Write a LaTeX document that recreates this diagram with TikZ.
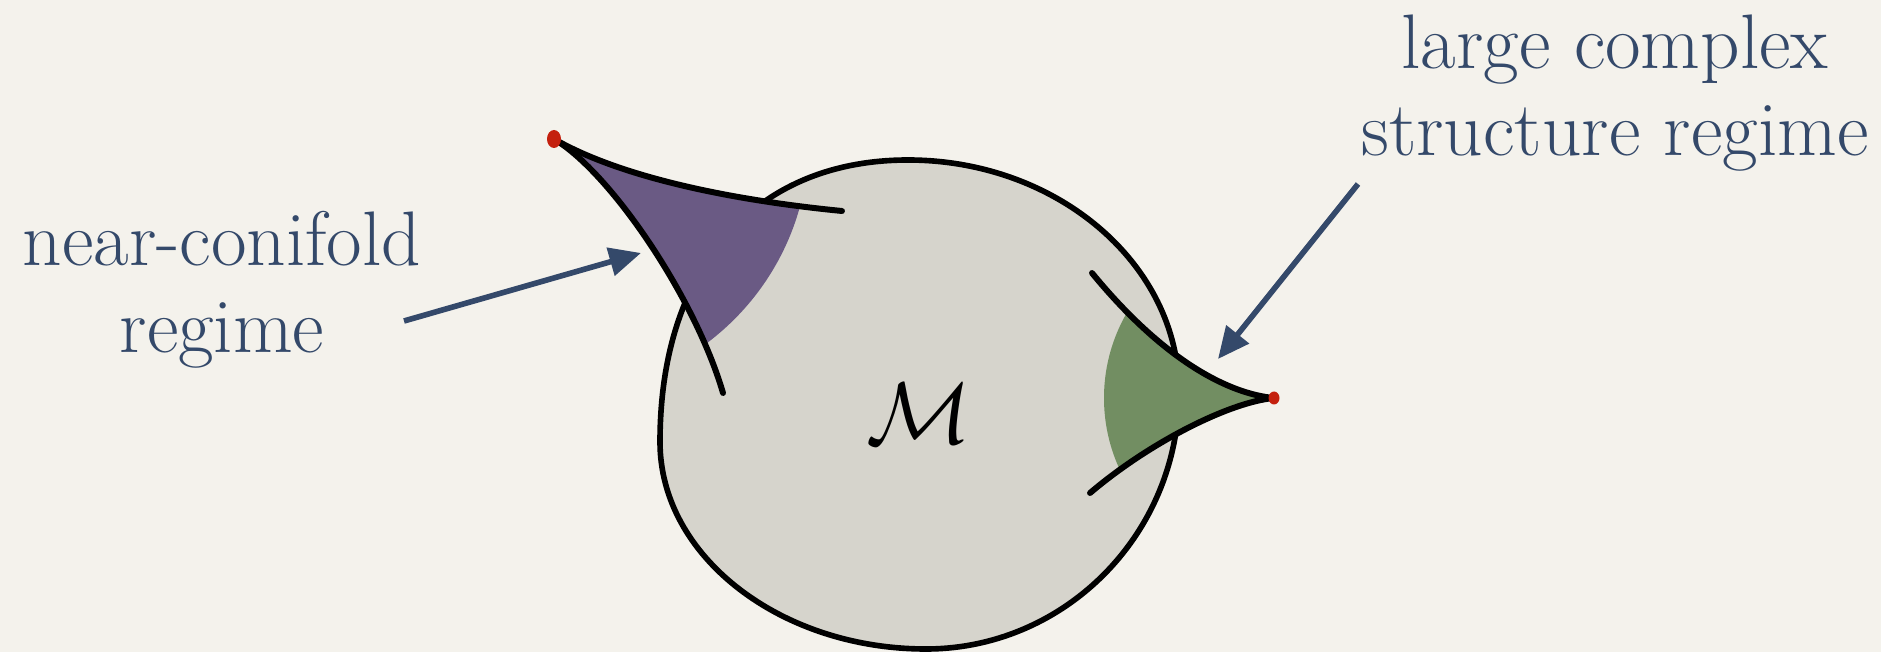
\documentclass[tikz,border=0pt]{standalone}
\usetikzlibrary{arrows.meta}
\definecolor{paper}{HTML}{F4F2EC}
\definecolor{blobgray}{HTML}{D6D4CC}
\definecolor{conipurple}{HTML}{6A5A84}
\definecolor{lcsgreen}{HTML}{728E62}
\definecolor{labelblue}{HTML}{34496A}
\definecolor{cuspred}{HTML}{C4200E}
\begin{document}
\begin{tikzpicture}[
  lbl/.style={text=labelblue,align=center,font=\fontsize{22}{25}\selectfont},
  pointer/.style={draw=labelblue,line width=1.6pt,-{Triangle[length=9pt,width=8pt]}},
  rim/.style={line width=1.7pt,line cap=round}]
\fill[paper] (0,0) rectangle (18.81,6.52);
\useasboundingbox (0,0) rectangle (18.81,6.52);

% the moduli space
\filldraw[blobgray,draw=black,line width=1.6pt] (9.08,4.92)
  .. controls (10.57,4.92) and (11.79,3.88) .. (11.79,2.6)
  .. controls (11.79,1.18) and (10.65,0.03) .. (9.26,0.03)
  .. controls (7.80,0.03) and (6.60,0.96) .. (6.60,2.1)
  .. controls (6.60,3.85) and (7.55,4.92) .. cycle;
\node[font=\fontsize{35}{35}\selectfont] (M) at (9.19,2.38) {$\mathcal{M}$};

% cusps
\coordinate (conetip) at (5.54,5.13);
\coordinate (lcstip) at (12.74,2.54);

\begin{scope}
\clip (conetip) circle (2.55);
\fill[conipurple] (conetip) .. controls (6.2,4.75) and (7.3,4.52) .. (8.42,4.41)
  -- (7.23,2.59) .. controls (6.95,3.55) and (6.1,4.8) .. (conetip);
\end{scope}
\begin{scope}
\clip (lcstip) circle (1.7);
\fill[lcsgreen] (lcstip) .. controls (12.3,2.58) and (11.65,2.9) .. (10.92,3.79)
  -- (10.90,1.59) .. controls (11.5,2.1) and (12.3,2.5) .. (lcstip);
\end{scope}

\draw[rim] (conetip) .. controls (6.2,4.75) and (7.3,4.52) .. (8.42,4.41);
\draw[rim] (conetip) .. controls (6.1,4.8) and (6.95,3.55) .. (7.23,2.59);
\draw[rim] (lcstip) .. controls (12.3,2.58) and (11.65,2.9) .. (10.92,3.79);
\draw[rim] (lcstip) .. controls (12.3,2.5) and (11.5,2.1) .. (10.90,1.59);
\fill[cuspred] (conetip) ellipse (0.07 and 0.09);
\fill[cuspred] (lcstip) ellipse (0.055 and 0.065);

% labels
\node[lbl,anchor=base] (nclabel) at (2.22,2.99) {near-conifold\\regime};
\node[lbl,anchor=base] (lcslabel) at (16.15,4.96) {large complex\\structure regime};
\coordinate (ncfrom) at (4.04,3.31);
\coordinate (ncto) at (6.41,3.99);
\coordinate (lcsfrom) at (13.58,4.68);
\coordinate (lcsto) at (12.18,2.93);
\draw[pointer] (ncfrom) -- (ncto);
\draw[pointer] (lcsfrom) -- (lcsto);
\end{tikzpicture}
\end{document}
